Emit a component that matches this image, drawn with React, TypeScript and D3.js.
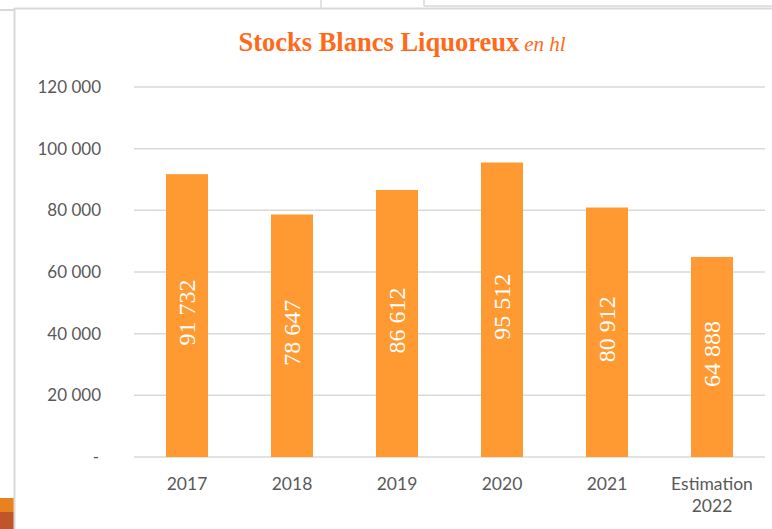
import React from "react";
import * as d3 from "d3";

const categories: string[][] = [["2017"], ["2018"], ["2019"], ["2020"], ["2021"], ["Estimation", "2022"]];
const values: number[] = [91732, 78647, 86612, 95512, 80912, 64888];
const valueLabels: string[] = ["91 732", "78 647", "86 612", "95 512", "80 912", "64 888"];
const yTicks: number[] = [0, 20000, 40000, 60000, 80000, 100000, 120000];
const yTickLabels: string[] = ["-", "20 000", "40 000", "60 000", "80 000", "100 000", "120 000"];

const W = 772;
const H = 529;

export default function App() {
  const x = d3
    .scaleBand<number>()
    .domain(d3.range(values.length))
    .range([134.5, 764.5])
    .paddingInner(0.6)
    .paddingOuter(0.3);
  const y = d3.scaleLinear().domain([0, 120000]).range([457, 87]);
  const axisFont = "Lato, 'Open Sans', sans-serif";
  const serif = "'Liberation Serif', 'DejaVu Serif', serif";

  return (
    <div style={{ position: "fixed", left: 0, top: 0 }}>
      <svg width={W} height={H} style={{ display: "block", background: "#fff" }}>
        {/* surrounding artifacts */}
        <line x1={0} y1={10} x2={14} y2={10} stroke="#d9d9d9" strokeWidth={2} />
        <line x1={321} y1={0} x2={321} y2={9} stroke="#d9d9d9" strokeWidth={1.5} />
        <line x1={424} y1={0} x2={424} y2={6} stroke="#d9d9d9" strokeWidth={1.5} />
        <line x1={424} y1={6} x2={W} y2={6} stroke="#d9d9d9" strokeWidth={1.5} />
        <rect x={0} y={498} width={14} height={14} fill="#e8821e" />
        <rect x={0} y={512} width={14} height={17} fill="#c0552b" />
        {/* chart frame */}
        <line x1={14.5} y1={8.5} x2={W} y2={8.5} stroke="#d9d9d9" strokeWidth={2} />
        <line x1={14.5} y1={8} x2={14.5} y2={H} stroke="#d9d9d9" strokeWidth={2} />

        {/* title */}
        <text x={402} y={51} textAnchor="middle" fill="#ff6a1a" fontFamily={serif}>
          <tspan fontWeight="bold" fontSize={26.5}>Stocks Blancs Liquoreux</tspan>
          <tspan fontStyle="italic" fontSize={21} dx={5}>en hl</tspan>
        </text>

        {/* grid */}
        {yTicks.map((t, i) => (
          <g key={t}>
            <line
              x1={134}
              x2={765}
              y1={y(t)}
              y2={y(t)}
              stroke="#d9d9d9"
              strokeWidth={1.5}
            />
            <text
              x={t === 0 ? 99 : 101}
              y={y(t)}
              dy="0.35em"
              textAnchor="end"
              fill="#595959"
              fontSize={17}
              fontFamily={axisFont}
            >
              {yTickLabels[i]}
            </text>
          </g>
        ))}

        {/* bars */}
        {values.map((v, i) => {
          const bx = x(i)!;
          const bw = x.bandwidth();
          const cy = (y(v) + y(0)) / 2 - 3;
          const cx = bx + bw / 2;
          return (
            <g key={i}>
              <rect x={bx} y={y(v)} width={bw} height={y(0) - y(v)} fill="#ff9a33" />
              <text
                transform={`translate(${cx},${cy}) rotate(-90)`}
                textAnchor="middle"
                dy="0.35em"
                fill="#fff"
                fontSize={24}
                fontFamily={serif}
              >
                {valueLabels[i]}
              </text>
            </g>
          );
        })}

        {/* x labels */}
        {categories.map((c, i) => {
          const cx = x(i)! + x.bandwidth() / 2;
          return (
            <text
              key={i}
              x={cx}
              y={490}
              textAnchor="middle"
              fill="#595959"
              fontSize={17.5}
              fontFamily={axisFont}
            >
              {c.map((line, j) => (
                <tspan key={j} x={cx} dy={j === 0 ? 0 : 22}>
                  {line}
                </tspan>
              ))}
            </text>
          );
        })}
      </svg>
    </div>
  );
}
